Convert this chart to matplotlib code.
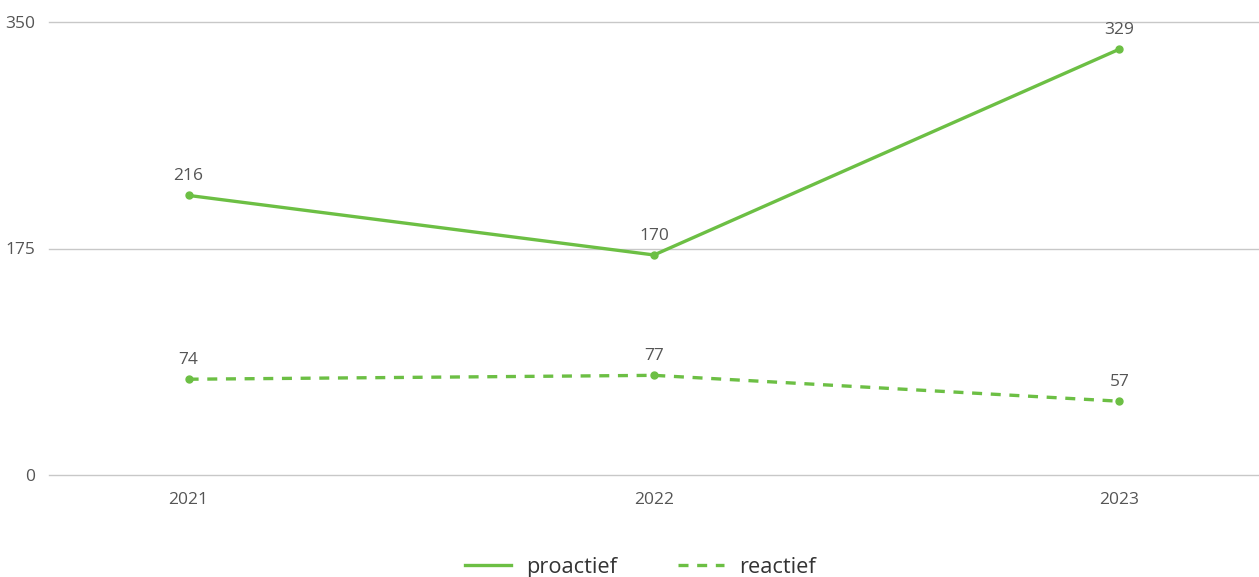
import matplotlib
matplotlib.use("Agg")
import matplotlib.pyplot as plt

years = ["2021", "2022", "2023"]
proactief = [216, 170, 329]
reactief = [74, 77, 57]
y_ticks = [0, 175, 350]

GREEN = "#6cbf44"
TEXT = "#555555"
GRID = "#c8c8c8"

plt.rcParams["font.family"] = ["Open Sans", "DejaVu Sans"]

fig = plt.figure(figsize=(12.59, 5.77), dpi=100)
ax = fig.add_axes([49 / 1259, 1 - 475 / 577, 1 - 49 / 1259, (475 - 22) / 577])

x = list(range(len(years)))
ax.plot(x, proactief, color=GREEN, lw=2.4, marker="o", ms=5, label="proactief")
ax.plot(x, reactief, color=GREEN, lw=2.4, ls=(0, (3, 2.6)), marker="o", ms=5,
        label="reactief")

for series in (proactief, reactief):
    for xi, v in zip(x, series):
        ax.annotate(str(v), (xi, v), xytext=(0, 8), textcoords="offset points",
                    ha="center", va="bottom", color=TEXT, fontsize=12.5)

ax.set_xlim(-0.3, 2.3)
ax.set_ylim(0, 350)
ax.set_xticks(x, years)
ax.set_yticks(y_ticks)
ax.grid(axis="y", color=GRID, lw=1)
for gl in ax.get_ygridlines():
    gl.set_clip_on(False)
ax.set_axisbelow(True)
for s in ax.spines.values():
    s.set_visible(False)
ax.tick_params(length=0, colors=TEXT, labelsize=12.5)
ax.tick_params(axis="x", pad=12)
ax.tick_params(axis="y", pad=10)

leg = fig.legend(loc="lower center", bbox_to_anchor=(0.509, -0.035), ncol=2, frameon=False,
                 fontsize=15.7, handlelength=2.1, handletextpad=0.7, columnspacing=2.8,
                 labelcolor="#333333")
for h in leg.legend_handles:
    h.set_marker("")

fig.savefig("out.png", dpi=100)
